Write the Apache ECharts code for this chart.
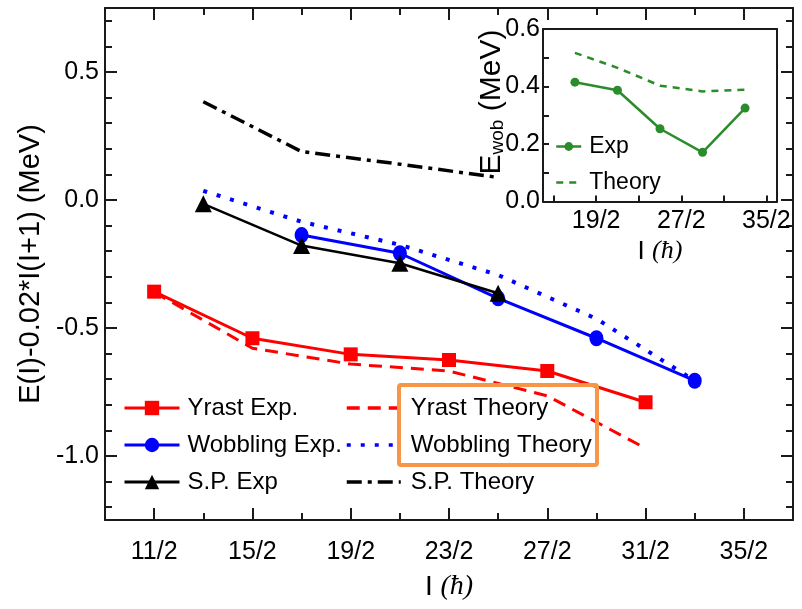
<!DOCTYPE html>
<html><head><meta charset="utf-8">
<script src="https://cdn.jsdelivr.net/npm/echarts@6/dist/echarts.min.js"></script>
<style>html,body{margin:0;padding:0;background:#fff}#c{width:802px;height:609px}</style>
</head><body><div id="c"></div>
<script>
// ---- data ----
const spinsYrast = [5.5, 7.5, 9.5, 11.5, 13.5, 15.5];
const yrastExp = [-0.358, -0.540, -0.603, -0.625, -0.668, -0.790];
const yrastTheory = [-0.360, -0.579, -0.641, -0.668, -0.765, -0.970];
const spinsWobExp = [8.5, 10.5, 12.5, 14.5, 16.5];
const wobblingExp = [-0.137, -0.208, -0.384, -0.540, -0.706];
const spinsWobTh = [6.5, 8.5, 10.5, 12.5, 14.5, 16.5];
const wobblingTheory = [0.036, -0.085, -0.175, -0.293, -0.464, -0.706];
const spinsSP = [6.5, 8.5, 10.5, 12.5];
const spExp = [-0.015, -0.178, -0.247, -0.364];
const spTheory = [0.384, 0.189, 0.140, 0.088];
const spinsInset = [8.5, 10.5, 12.5, 14.5, 16.5];
const ewobExp = [0.415, 0.387, 0.253, 0.171, 0.325];
const ewobTheory = [0.517, 0.465, 0.403, 0.383, 0.389];

// ---- ticks ----
const xTickValues = [5.5, 7.5, 9.5, 11.5, 13.5, 15.5, 17.5];
const xTickLabels = ['11/2', '15/2', '19/2', '23/2', '27/2', '31/2', '35/2'];
const xMinorValues = [6.5, 8.5, 10.5, 12.5, 14.5, 16.5];
const yTickValues = [-1.0, -0.5, 0.0, 0.5];
const yMinorValues = [-1.2, -1.1, -0.9, -0.8, -0.7, -0.6, -0.4, -0.3, -0.2, -0.1, 0.1, 0.2, 0.3, 0.4, 0.6, 0.7];
const insetXLabelValues = [9.5, 13.5, 17.5];
const insetXLabels = ['19/2', '27/2', '35/2'];
const insetXTickValues = [7.5, 9.5, 11.5, 13.5, 15.5, 17.5];
const insetYLabelValues = [0.0, 0.2, 0.4, 0.6];
const insetYTickValues = [0.1, 0.2, 0.3, 0.4, 0.5];

const FONT = "'Liberation Sans', Arial, Helvetica, sans-serif";
const SERIF = "'Liberation Serif', 'Times New Roman', serif";
const FRAME = '#1a1a1a';
const GREEN = '#2a8c2a';
const zip = (xs, ys) => xs.map((x, i) => [x, ys[i]]);
const lookup = (vals, labels) => v => {
  const i = vals.findIndex(t => Math.abs(t - v) < 1e-6);
  return i < 0 ? '' : labels[i];
};

function axis(o) {
  return Object.assign({
    type: 'value',
    axisLine: { show: true, onZero: false, lineStyle: { color: FRAME, width: 2 } },
    axisTick: { show: false },
    axisLabel: { show: false },
    splitLine: { show: false }
  }, o);
}
function ticks(values, len) {
  return { show: true, inside: true, length: len, customValues: values, lineStyle: { color: FRAME, width: 2 } };
}
const X = { min: 4.5, max: 18.5 };
const Y = { min: -1.25, max: 0.75 };
const XI = { min: 7, max: 18 };
const YI = { min: 0, max: 0.6 };

const option = {
  animation: false,
  backgroundColor: '#fff',
  grid: [
    { left: 105, right: 9, top: 8, bottom: 89 },
    { left: 105, right: 9, top: 8, bottom: 89 },
    { left: 543, top: 29, width: 234, height: 172.5, show: true, backgroundColor: '#fff', borderWidth: 0 }
  ],
  xAxis: [
    axis(Object.assign({ gridIndex: 0, position: 'bottom',
      axisTick: ticks(xTickValues, 12),
      axisLabel: { show: true, customValues: xTickValues, formatter: lookup(xTickValues, xTickLabels),
        margin: 20, fontSize: 25, fontFamily: FONT, color: '#000' },
      name: 'I {h|(ħ)}', nameLocation: 'middle', nameGap: 53,
      nameTextStyle: { fontSize: 28, fontFamily: FONT, color: '#000',
        rich: { h: { fontSize: 28, fontFamily: SERIF, fontStyle: 'italic', color: '#000' } } }
    }, X)),
    axis(Object.assign({ gridIndex: 0, position: 'top', axisTick: ticks(xTickValues, 12) }, X)),
    axis(Object.assign({ gridIndex: 1, position: 'bottom', axisLine: { show: false, onZero: false }, axisTick: ticks(xMinorValues, 7) }, X)),
    axis(Object.assign({ gridIndex: 1, position: 'top', axisLine: { show: false, onZero: false }, axisTick: ticks(xMinorValues, 7) }, X)),
    axis(Object.assign({ gridIndex: 2, position: 'bottom',
      axisTick: ticks(insetXTickValues, 6),
      axisLabel: { show: true, customValues: insetXLabelValues, formatter: lookup(insetXLabelValues, insetXLabels),
        margin: 7, fontSize: 25, fontFamily: FONT, color: '#000' },
      name: 'I {h|(ħ)}', nameLocation: 'middle', nameGap: 37,
      nameTextStyle: { fontSize: 26, fontFamily: FONT, color: '#000',
        rich: { h: { fontSize: 26, fontFamily: SERIF, fontStyle: 'italic', color: '#000' } } }
    }, XI)),
    axis(Object.assign({ gridIndex: 2, position: 'top' }, XI))
  ],
  yAxis: [
    axis(Object.assign({ gridIndex: 0, position: 'left',
      axisTick: ticks(yTickValues, 12),
      axisLabel: { show: true, customValues: yTickValues, formatter: v => v.toFixed(1),
        margin: 6, fontSize: 25, fontFamily: FONT, color: '#000' },
      name: 'E(I)-0.02*I(I+1) (MeV)', nameLocation: 'middle', nameRotate: 90, nameGap: 56,
      nameTextStyle: { fontSize: 29, fontFamily: FONT, color: '#000' }
    }, Y)),
    axis(Object.assign({ gridIndex: 0, position: 'right', axisTick: ticks(yTickValues, 12) }, Y)),
    axis(Object.assign({ gridIndex: 1, position: 'left', axisLine: { show: false, onZero: false }, axisTick: ticks(yMinorValues, 7) }, Y)),
    axis(Object.assign({ gridIndex: 1, position: 'right', axisLine: { show: false, onZero: false }, axisTick: ticks(yMinorValues, 7) }, Y)),
    axis(Object.assign({ gridIndex: 2, position: 'left',
      axisTick: ticks(insetYTickValues, 6),
      axisLabel: { show: true, customValues: insetYLabelValues, formatter: v => v.toFixed(1),
        margin: 3, fontSize: 25, fontFamily: FONT, color: '#000' }
    }, YI)),
    axis(Object.assign({ gridIndex: 2, position: 'right' }, YI))
  ],
  legend: [
    { data: ['Yrast Exp.', 'Wobbling Exp.', 'S.P. Exp'],
      orient: 'vertical', left: 123, top: 396, padding: 0,
      itemWidth: 55, itemHeight: 18, itemGap: 13, selectedMode: false,
      lineStyle: { width: 3 },
      textStyle: { fontSize: 24, fontFamily: FONT, color: '#000', padding: [0, 0, 0, 3] } },
    { data: [{ name: 'Yrast Theory', itemStyle: { opacity: 0 } },
             { name: 'Wobbling Theory', itemStyle: { opacity: 0 } },
             { name: 'S.P. Theory', itemStyle: { opacity: 0 } }],
      orient: 'vertical', left: 345, top: 396, padding: 0,
      itemWidth: 54, itemHeight: 18, itemGap: 13, selectedMode: false,
      lineStyle: { width: 3.5 },
      textStyle: { fontSize: 24, fontFamily: FONT, color: '#000', padding: [0, 0, 0, 5] } },
    { data: ['Exp', { name: 'Theory', itemStyle: { opacity: 0 } }],
      orient: 'vertical', left: 555, top: 135, padding: 0,
      itemWidth: 25, itemHeight: 11, itemGap: 13, selectedMode: false,
      lineStyle: { width: 2.5 },
      textStyle: { fontSize: 23, fontFamily: FONT, color: '#000', padding: [0, 0, 0, 3] } }
  ],
  graphic: [
    { type: 'rect', z: 100, shape: { x: 399, y: 385, width: 198, height: 80, r: 2 },
      style: { fill: 'none', stroke: '#F79646', lineWidth: 4 } },
    { type: 'text', z: 100, x: 492, y: 102, rotation: Math.PI / 2,
      style: { text: 'E{sub|wob} (MeV)', fontSize: 30, fontFamily: FONT, fill: '#000',
        align: 'center', verticalAlign: 'middle',
        rich: { sub: { fontSize: 19, fontFamily: FONT, fill: '#000', verticalAlign: 'bottom', padding: [7, 0, 0, 0] } } } }
  ],
  series: [
    { name: 'Yrast Exp.', type: 'line', xAxisIndex: 0, yAxisIndex: 0, data: zip(spinsYrast, yrastExp),
      symbol: 'rect', symbolSize: 14, color: '#ff0000', lineStyle: { width: 3, color: '#ff0000' }, z: 3 },
    { name: 'Wobbling Exp.', type: 'line', xAxisIndex: 0, yAxisIndex: 0, data: zip(spinsWobExp, wobblingExp),
      symbol: 'circle', symbolSize: [14, 16], color: '#0000ff', lineStyle: { width: 3, color: '#0000ff' }, z: 3 },
    { name: 'S.P. Exp', type: 'line', xAxisIndex: 0, yAxisIndex: 0, data: zip(spinsSP, spExp),
      symbol: 'triangle', symbolSize: 17, color: '#000000', lineStyle: { width: 2.5, color: '#000000' }, z: 4 },
    { name: 'Yrast Theory', type: 'line', xAxisIndex: 0, yAxisIndex: 0, data: zip(spinsYrast, yrastTheory),
      symbol: 'none', color: '#ff0000', lineStyle: { width: 3, color: '#ff0000', type: [13, 8] }, z: 2 },
    { name: 'Wobbling Theory', type: 'line', xAxisIndex: 0, yAxisIndex: 0, data: zip(spinsWobTh, wobblingTheory),
      symbol: 'none', color: '#0000ff', lineStyle: { width: 4, color: '#0000ff', type: [4, 10] }, z: 2 },
    { name: 'S.P. Theory', type: 'line', xAxisIndex: 0, yAxisIndex: 0, data: zip(spinsSP, spTheory),
      symbol: 'none', color: '#000000', lineStyle: { width: 3.5, color: '#000000', type: [15, 6, 4, 6] }, z: 2 },
    { name: 'Exp', type: 'line', xAxisIndex: 4, yAxisIndex: 4, data: zip(spinsInset, ewobExp),
      symbol: 'circle', symbolSize: 9, color: GREEN, lineStyle: { width: 2.5, color: GREEN }, z: 3 },
    { name: 'Theory', type: 'line', xAxisIndex: 4, yAxisIndex: 4, data: zip(spinsInset, ewobTheory),
      symbol: 'none', color: GREEN, lineStyle: { width: 2.5, color: GREEN, type: [7, 6] }, z: 2 }
  ]
};
const chart = echarts.init(document.getElementById('c'), null, { renderer: 'canvas' });
chart.setOption(option);
</script></body></html>
